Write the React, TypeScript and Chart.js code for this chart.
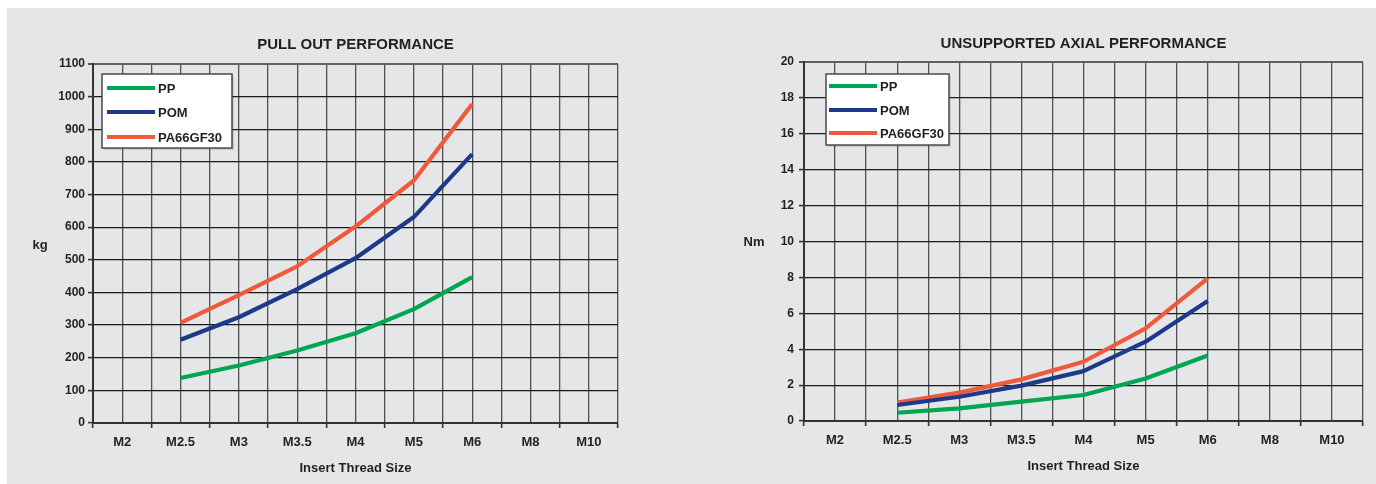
import React, { useEffect, useRef } from 'react';
import { Chart, registerables } from 'chart.js';

Chart.register(...registerables);

const FONT = '"Liberation Sans", Arial, Helvetica, sans-serif';

// ---- data ----
const threadSizes = ['M2', 'M2.5', 'M3', 'M3.5', 'M4', 'M5', 'M6', 'M8', 'M10'];
const seriesNames = ['PP', 'POM', 'PA66GF30'];
const seriesColors = ['#00a651', '#1d3a8a', '#f05a3c'];

const pullOutPP = [null, 138, 176, 222, 275, 349, 447, null, null];
const pullOutPOM = [null, 255, 324, 410, 505, 631, 824, null, null];
const pullOutPA66 = [null, 307, 392, 480, 602, 743, 977, null, null];

const axialPP = [null, 0.46, 0.7, 1.08, 1.45, 2.37, 3.65, null, null];
const axialPOM = [null, 0.89, 1.35, 1.97, 2.78, 4.42, 6.68, null, null];
const axialPA66 = [null, 1.02, 1.58, 2.32, 3.3, 5.16, 7.94, null, null];

const pullOutTicks = { max: 1100, step: 100 };
const axialTicks = { max: 20, step: 2 };

type Layout = {
  width: number;
  left: number;
  right: number;
  top: number;
  bottom: number;
  titleY: number;
  xTitleY: number;
  yTitleX: number;
  yTitleY: number;
  yLabelPad: number;
  legend: { dx: number; dy: number; w: number; h: number; lx0: number; lx1: number; ys: number[]; tx: number };
};

const decorPlugin = {
  id: 'decor',
  afterDraw(chart: any, _args: any, opts: any) {
    const ctx = chart.ctx as CanvasRenderingContext2D;
    const ca = chart.chartArea;
    const L: Layout = opts.layout;
    ctx.save();
    ctx.fillStyle = '#231f20';
    ctx.textAlign = 'center';
    ctx.textBaseline = 'middle';
    ctx.font = `bold 15px ${FONT}`;
    ctx.fillText(opts.title, (ca.left + ca.right) / 2, L.titleY);
    ctx.font = `bold 13px ${FONT}`;
    ctx.fillText(opts.xTitle, (ca.left + ca.right) / 2, L.xTitleY);
    ctx.fillText(opts.yTitle, L.yTitleX, L.yTitleY);

    const lg = L.legend;
    const bx = ca.left + lg.dx;
    const by = ca.top + lg.dy;
    ctx.fillStyle = 'rgba(0,0,0,0.12)';
    ctx.fillRect(bx + 2, by + 2, lg.w, lg.h);
    ctx.fillStyle = '#ffffff';
    ctx.fillRect(bx, by, lg.w, lg.h);
    ctx.strokeStyle = '#4a4a4a';
    ctx.lineWidth = 1.5;
    ctx.strokeRect(bx, by, lg.w, lg.h);
    ctx.textAlign = 'left';
    ctx.font = `bold 13px ${FONT}`;
    chart.data.datasets.forEach((ds: any, i: number) => {
      const y = ca.top + lg.ys[i];
      ctx.strokeStyle = ds.borderColor;
      ctx.lineWidth = 4;
      ctx.beginPath();
      ctx.moveTo(ca.left + lg.lx0, y);
      ctx.lineTo(ca.left + lg.lx1, y);
      ctx.stroke();
      ctx.fillStyle = '#231f20';
      ctx.fillText(ds.label, ca.left + lg.tx, y + 1);
    });
    ctx.restore();
  },
};

function buildConfig(
  title: string,
  yTitle: string,
  values: (number | null)[][],
  ticks: { max: number; step: number },
  L: Layout,
  canvasHeight: number
): any {
  const datasets = values.map((vals, s) => ({
    label: seriesNames[s],
    data: threadSizes
      .map((_, i) => (vals[i] == null ? null : { x: i + 0.5, y: vals[i] }))
      .filter((p) => p !== null),
    borderColor: seriesColors[s],
    backgroundColor: seriesColors[s],
    borderWidth: 4.2,
    pointRadius: 0,
    tension: 0,
    borderCapStyle: 'butt',
    borderJoinStyle: 'round',
    fill: false,
  }));

  return {
    type: 'line',
    data: { datasets },
    plugins: [decorPlugin],
    options: {
      animation: false,
      responsive: false,
      maintainAspectRatio: false,
      events: [],
      layout: {
        padding: { left: 0, top: L.top, right: L.width - L.right, bottom: 0 },
      },
      plugins: {
        legend: { display: false },
        title: { display: false },
        tooltip: { enabled: false },
        decor: { title, xTitle: 'Insert Thread Size', yTitle, layout: L },
      },
      scales: {
        x: {
          type: 'linear',
          min: 0,
          max: threadSizes.length,
          afterFit: (scale: any) => {
            scale.height = canvasHeight - L.bottom;
          },
          ticks: {
            stepSize: 0.5,
            autoSkip: false,
            maxRotation: 0,
            padding: 7,
            color: '#231f20',
            font: { family: FONT, size: 13, weight: 'bold' },
            callback: (v: number) => {
              const f = v - Math.floor(v);
              return Math.abs(f - 0.5) < 1e-6 ? threadSizes[Math.floor(v)] : '';
            },
          },
          grid: {
            color: '#505050',
            lineWidth: 1.3,
            tickLength: 5,
            tickColor: (c: any) => {
              const v = c.tick ? c.tick.value : 0;
              return Math.abs(v - Math.round(v)) < 1e-6 ? '#333333' : 'rgba(0,0,0,0)';
            },
            tickWidth: 1.6,
          },
          border: { display: true, color: '#333333', width: 2 },
        },
        y: {
          type: 'linear',
          min: 0,
          max: ticks.max,
          afterFit: (scale: any) => {
            scale.width = L.left;
          },
          ticks: {
            stepSize: ticks.step,
            padding: L.yLabelPad,
            color: '#231f20',
            font: { family: FONT, size: 12, weight: 'bold' },
            callback: (v: number) => String(v),
          },
          grid: {
            color: (c: any) => (c.tick && c.tick.value === ticks.max ? '#606060' : '#1a1a1a'),
            lineWidth: (c: any) => (c.tick && c.tick.value === ticks.max ? 2 : 1.2),
            tickLength: 5,
            tickColor: '#333333',
            tickWidth: 1.6,
          },
          border: { display: true, color: '#333333', width: 2 },
        },
      },
    },
  };
}

const H = 484;

const layout1: Layout = {
  width: 690,
  left: 93,
  right: 618,
  top: 64,
  bottom: 423,
  titleY: 45,
  xTitleY: 468,
  yTitleX: 40,
  yTitleY: 245,
  yLabelPad: 3,
  legend: { dx: 9, dy: 10, w: 130, h: 74, lx0: 14, lx1: 62, ys: [24, 48, 73], tx: 65 },
};

const layout2: Layout = {
  width: 686,
  left: 114,
  right: 673,
  top: 62,
  bottom: 421,
  titleY: 44,
  xTitleY: 466,
  yTitleX: 64,
  yTitleY: 242,
  yLabelPad: 5,
  legend: { dx: 22, dy: 12, w: 123, h: 71, lx0: 25, lx1: 73, ys: [24, 48, 71], tx: 76 },
};

function ChartCanvas({ cfg, width, left }: { cfg: () => any; width: number; left: number }) {
  const ref = useRef<HTMLCanvasElement | null>(null);
  useEffect(() => {
    if (!ref.current) return;
    const chart = new Chart(ref.current, cfg());
    return () => chart.destroy();
  }, []);
  return (
    <canvas
      ref={ref}
      width={width}
      height={H}
      style={{ position: 'absolute', left, top: 0, width, height: H, display: 'block' }}
    />
  );
}

export default function App() {
  useEffect(() => {
    document.body.style.margin = '0';
  }, []);
  return (
    <div style={{ position: 'relative', width: 1376, height: H, background: '#ffffff', overflow: 'hidden' }}>
      <div style={{ position: 'absolute', left: 7, top: 8, right: 0, bottom: 0, background: '#e5e6e8' }} />
      <ChartCanvas
        width={690}
        left={0}
        cfg={() =>
          buildConfig('PULL OUT PERFORMANCE', 'kg', [pullOutPP, pullOutPOM, pullOutPA66], pullOutTicks, layout1, H)
        }
      />
      <ChartCanvas
        width={686}
        left={690}
        cfg={() =>
          buildConfig('UNSUPPORTED AXIAL PERFORMANCE', 'Nm', [axialPP, axialPOM, axialPA66], axialTicks, layout2, H)
        }
      />
    </div>
  );
}
